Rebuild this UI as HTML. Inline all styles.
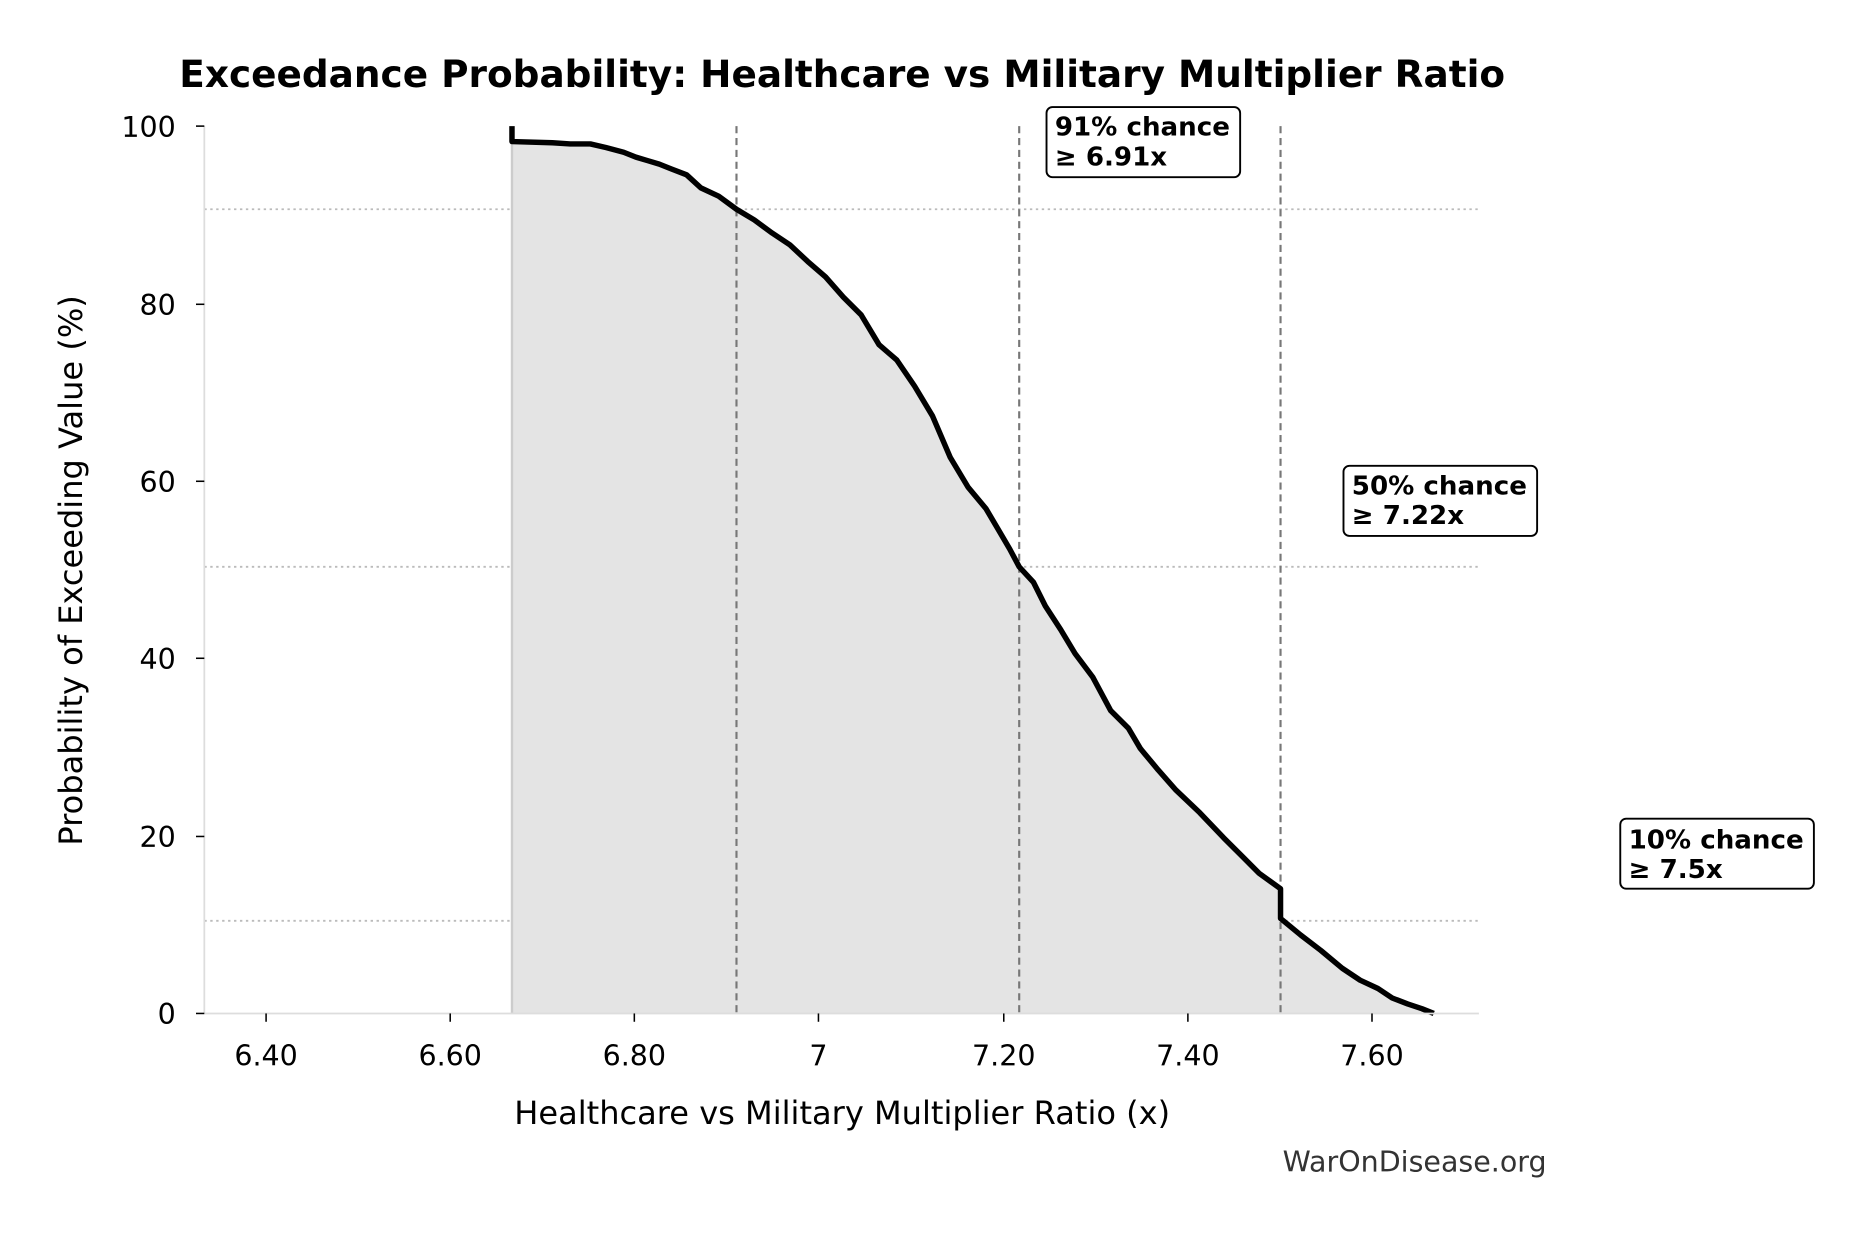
<!DOCTYPE html>
<html><head><style>html,body{margin:0;padding:0;background:#fff}svg{display:block}</style></head><body>
<svg width="1862" height="1234" viewBox="0 0 1567.5 1038.5" xmlns="http://www.w3.org/2000/svg" font-family="DejaVu Sans, Liberation Sans, sans-serif">
<rect width="1568" height="1039" fill="#fff"/>
<text x="709" y="73" text-anchor="middle" font-size="31.5" font-weight="bold">Exceedance Probability: Healthcare vs Military Multiplier Ratio</text>
<g stroke="#bbb" stroke-width="1.5" stroke-dasharray="2,3">
<line x1="172" y1="176" x2="1245" y2="176"/><line x1="172" y1="477" x2="1245" y2="477"/><line x1="172" y1="775" x2="1245" y2="775"/>
</g>
<path d="M431,106 L431,119 L465,120 L480,121 L497,121 L510,124 L525,128 L535,132 L545,135 L555,138 L565,142 L578,147 L590,158 L605,165 L620,176 L635,185 L650,196 L665,206 L680,220 L695,233 L710,250 L725,265 L740,290 L755,303 L770,325 L785,350 L800,385 L815,410 L830,428 L840,445 L850,462 L858,477 L870,490 L880,510 L893,530 L905,550 L920,570 L935,598 L950,613 L960,630 L975,648 L990,665 L1010,684 L1030,705 L1045,720 L1060,735 L1078,748 L1078,773 L1095,787 L1112,800 L1130,815 L1145,825 L1160,832 L1172,840 L1185,845 L1197,849 L1207,853 L431,853 Z" fill="#e4e4e4"/>
<line x1="431" y1="119" x2="431" y2="853" stroke="#ccc" stroke-width="2"/>
<g stroke="#777" stroke-width="1.8" stroke-dasharray="6,4">
<line x1="620" y1="106" x2="620" y2="853"/><line x1="858" y1="106" x2="858" y2="853"/><line x1="1078" y1="106" x2="1078" y2="853"/>
</g>
<path d="M431,106 L431,119 L465,120 L480,121 L497,121 L510,124 L525,128 L535,132 L545,135 L555,138 L565,142 L578,147 L590,158 L605,165 L620,176 L635,185 L650,196 L665,206 L680,220 L695,233 L710,250 L725,265 L740,290 L755,303 L770,325 L785,350 L800,385 L815,410 L830,428 L840,445 L850,462 L858,477 L870,490 L880,510 L893,530 L905,550 L920,570 L935,598 L950,613 L960,630 L975,648 L990,665 L1010,684 L1030,705 L1045,720 L1060,735 L1078,748 L1078,773 L1095,787 L1112,800 L1130,815 L1145,825 L1160,832 L1172,840 L1185,845 L1197,849 L1207,853" fill="none" stroke="#000" stroke-width="4.6" stroke-linejoin="round"/>
<line x1="172" y1="106" x2="172" y2="853" stroke="#ddd" stroke-width="1.5"/>
<line x1="172" y1="853" x2="1245" y2="853" stroke="#ddd" stroke-width="1.5"/>
<g stroke="#000" stroke-width="1.3">
<line x1="165" y1="106" x2="172" y2="106"/><line x1="165" y1="256" x2="172" y2="256"/><line x1="165" y1="405" x2="172" y2="405"/><line x1="165" y1="554" x2="172" y2="554"/><line x1="165" y1="704" x2="172" y2="704"/><line x1="165" y1="853" x2="172" y2="853"/>
<line x1="224" y1="853" x2="224" y2="860"/><line x1="379" y1="853" x2="379" y2="860"/><line x1="534" y1="853" x2="534" y2="860"/><line x1="689" y1="853" x2="689" y2="860"/><line x1="845" y1="853" x2="845" y2="860"/><line x1="1000" y1="853" x2="1000" y2="860"/><line x1="1155" y1="853" x2="1155" y2="860"/>
</g>
<g font-size="24" text-anchor="end">
<text x="148" y="115">100</text><text x="148" y="265">80</text><text x="148" y="414">60</text><text x="148" y="563">40</text><text x="148" y="713">20</text><text x="148" y="862">0</text>
</g>
<g font-size="24" text-anchor="middle">
<text x="224" y="897">6.40</text><text x="379" y="897">6.60</text><text x="534" y="897">6.80</text><text x="689" y="897">7</text><text x="845" y="897">7.20</text><text x="1000" y="897">7.40</text><text x="1155" y="897">7.60</text>
</g>
<text x="709" y="946" text-anchor="middle" font-size="27">Healthcare vs Military Multiplier Ratio (x)</text>
<text transform="translate(69,480) rotate(-90)" text-anchor="middle" font-size="27">Probability of Exceeding Value (%)</text>
<text x="1302" y="986" text-anchor="end" font-size="24" fill="#333">WarOnDisease.org</text>
<g font-size="22" font-weight="bold">
<rect x="881" y="90" width="163" height="59" rx="5" fill="#fff" stroke="#000" stroke-width="1.6"/>
<text x="888" y="114">91% chance</text><text x="888" y="139">≥ 6.91x</text>
<rect x="1131" y="392" width="163" height="59" rx="5" fill="#fff" stroke="#000" stroke-width="1.6"/>
<text x="1138" y="416">50% chance</text><text x="1138" y="441">≥ 7.22x</text>
<rect x="1364" y="689" width="163" height="59" rx="5" fill="#fff" stroke="#000" stroke-width="1.6"/>
<text x="1371" y="714">10% chance</text><text x="1371" y="739">≥ 7.5x</text>
</g>
</svg>
</body></html>
